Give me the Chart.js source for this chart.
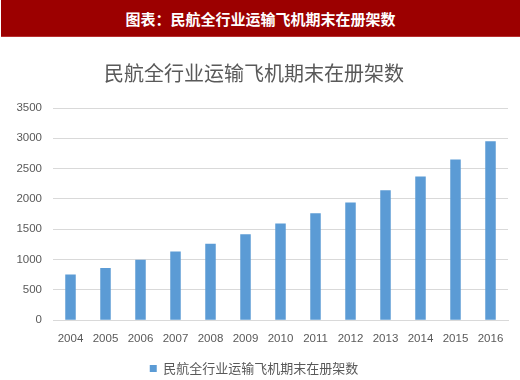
<!DOCTYPE html>
<html>
<head>
<meta charset="utf-8">
<script src="https://cdn.jsdelivr.net/npm/chart.js@4"></script>
<style>
  body { margin: 0; background: #fff; }
  #wrap { position: relative; width: 520px; height: 380px; }
  #head {
    position: absolute; left: 1px; top: 0; width: 519px; height: 36px;
    background: #9c0000; border-bottom: 1px solid #b83030;
    color: #fff; font: bold 15px "Noto Sans CJK SC", sans-serif;
    text-align: center; line-height: 37px; z-index: 2;
  }
  canvas { position: absolute; left: 0; top: 0; }
</style>
</head>
<body>
<div id="wrap">
  <div id="head">图表：民航全行业运输飞机期末在册架数</div>
  <canvas id="planeChart" width="520" height="380"></canvas>
</div>
<script>
// data
const years = ['2004', '2005', '2006', '2007', '2008', '2009', '2010',
               '2011', '2012', '2013', '2014', '2015', '2016'];
const fleet = [754, 863, 998, 1134, 1259, 1417, 1597, 1764, 1941, 2145, 2370, 2650, 2950];
const seriesName = '民航全行业运输飞机期末在册架数';

const grey = '#595959';

const ctx = document.getElementById('planeChart').getContext('2d');

const planeChart = new Chart(ctx, {
    type: 'bar',
    data: {
        labels: years,
        datasets: [{
            label: seriesName,
            data: fleet,
            backgroundColor: '#5b9bd5',
            borderWidth: 0,
            categoryPercentage: 1,
            barPercentage: 0.3
        }]
    },
    options: {
        responsive: false,
        animation: false,
        layout: { padding: { top: 36, right: 12, bottom: -5, left: 0 } },
        plugins: {
            title: {
                display: true,
                text: seriesName,
                color: grey,
                font: { family: '"Noto Sans CJK SC", sans-serif', size: 20, weight: 'normal' },
                padding: { top: 25, bottom: 23 }
            },
            legend: {
                position: 'bottom',
                labels: {
                    color: grey,
                    boxWidth: 7,
                    boxHeight: 7,
                    padding: 5,
                    font: { family: '"Noto Sans CJK SC", sans-serif', size: 13 }
                }
            },
            tooltip: { enabled: false }
        },
        scales: {
            x: {
                grid: { display: false },
                border: { color: '#d9d9d9' },
                ticks: { color: grey, font: { family: '"Liberation Sans", sans-serif', size: 11.5 }, padding: 4 },
                afterFit: function (scale) { scale.height += 7; }
            },
            y: {
                min: 0,
                max: 3500,
                grid: { color: '#d9d9d9', drawTicks: false },
                border: { display: false },
                ticks: {
                    stepSize: 500,
                    color: grey,
                    padding: 11,
                    font: { family: '"Liberation Sans", sans-serif', size: 11.5 },
                    callback: function (v) { return String(v); }
                },
                afterFit: function (scale) { scale.width = 53; }
            }
        }
    }
});
</script>
</body>
</html>
